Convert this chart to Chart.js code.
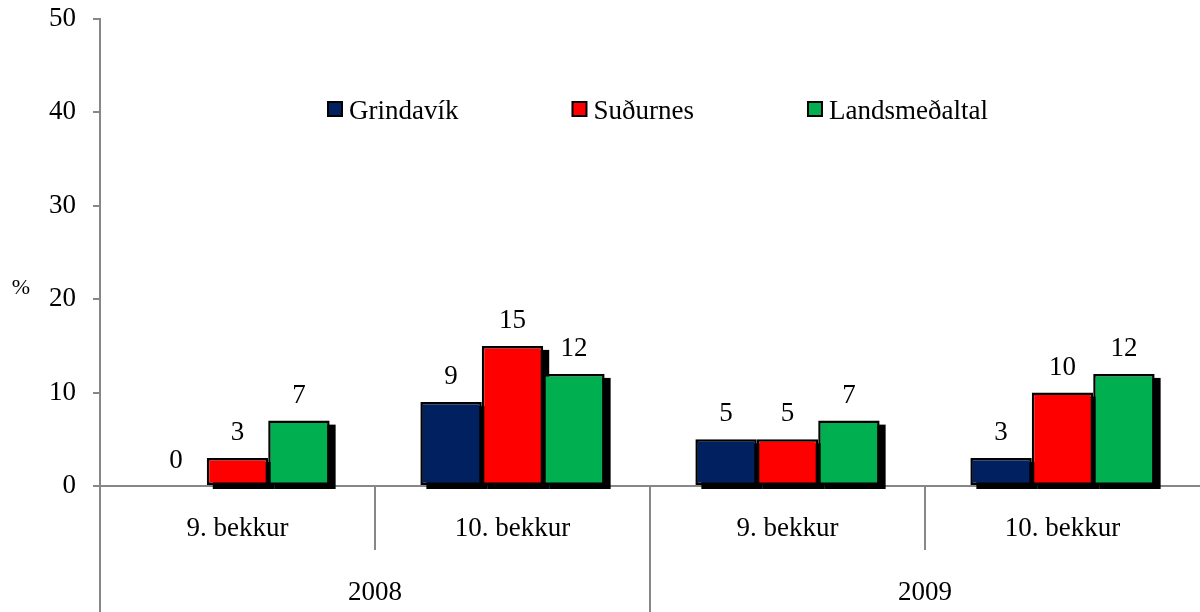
<!DOCTYPE html>
<html><head><meta charset="utf-8">
<script src="https://cdn.jsdelivr.net/npm/chart.js@4/dist/chart.umd.min.js"></script>
<style>html,body{margin:0;padding:0;background:#fff;overflow:hidden}#wrap{width:1200px;height:612px}</style>
</head><body><div id="wrap"><canvas id="c" width="1200" height="612"></canvas></div>
<script>
const grades = ['9. bekkur', '10. bekkur', '9. bekkur', '10. bekkur'];
const years = ['2008', '2009'];
const seriesNames = ['Grindavík', 'Suðurnes', 'Landsmeðaltal'];
const grindavik = [0, 9, 5, 3];
const sudurnes = [3, 15, 5, 10];
const landsmedaltal = [7, 12, 7, 12];
const yTicks = [0, 10, 20, 30, 40, 50];
const colors = ['#002060', '#FF0000', '#00B050'];

const FONT = "'Liberation Serif', 'Times New Roman', serif";
const GRAY = '#878787';

// black drop shadow behind every bar, using the bar geometry from the library
const shadowPlugin = {
  id: 'shadow',
  beforeDatasetsDraw(chart) {
    const ctx = chart.ctx;
    ctx.save();
    ctx.fillStyle = '#000';
    chart.data.datasets.forEach((ds, di) => {
      chart.getDatasetMeta(di).data.forEach((bar, i) => {
        if (ds.data[i] === 0) return;
        const p = bar.getProps(['x', 'y', 'base', 'width'], true);
        const left = p.x - p.width / 2;
        ctx.fillRect(left + 6, p.y + 4, p.width, p.base - p.y);
      });
    });
    ctx.restore();
  }
};

const labelPlugin = {
  id: 'vals',
  afterDatasetsDraw(chart) {
    const ctx = chart.ctx;
    ctx.save();
    ctx.font = '27px ' + FONT;
    ctx.fillStyle = '#000';
    ctx.textAlign = 'center';
    ctx.textBaseline = 'alphabetic';
    chart.data.datasets.forEach((ds, di) => {
      chart.getDatasetMeta(di).data.forEach((bar, i) => {
        ctx.fillText(String(ds.data[i]), bar.x, bar.y - 18);
      });
    });
    ctx.restore();
  }
};

const decoPlugin = {
  id: 'deco',
  afterDraw(chart) {
    const ctx = chart.ctx;
    const xs = chart.scales.x;
    const area = chart.chartArea;
    const w = xs.getPixelForValue(1) - xs.getPixelForValue(0);
    ctx.save();
    ctx.strokeStyle = GRAY;
    ctx.lineWidth = 2;
    ctx.beginPath();
    ctx.moveTo(area.left, area.bottom);
    ctx.lineTo(area.left, chart.height);
    for (let i = 1; i < grades.length; i++) {
      const px = Math.round(xs.getPixelForValue(i) - w / 2);
      ctx.moveTo(px, area.bottom);
      ctx.lineTo(px, i === 2 ? chart.height : area.bottom + 64);
    }
    ctx.stroke();
    ctx.fillStyle = '#000';
    ctx.font = '22px ' + FONT;
    ctx.textAlign = 'center';
    ctx.textBaseline = 'alphabetic';
    ctx.fillText('%', 21, 294);
    ctx.font = '27px ' + FONT;
    ctx.textAlign = 'left';
    let x = 328;
    const sq = 14, top = 102, base = 119;
    seriesNames.forEach((name, i) => {
      ctx.fillStyle = colors[i];
      ctx.fillRect(x, top, sq, sq);
      ctx.strokeStyle = '#000';
      ctx.lineWidth = 2;
      ctx.strokeRect(x, top, sq, sq);
      ctx.fillStyle = '#000';
      ctx.fillText(name, x + sq + 7, base);
      x += sq + 7 + ctx.measureText(name).width + 114;
    });
    ctx.restore();
  }
};

const datasets = [grindavik, sudurnes, landsmedaltal].map((d, i) => ({
  label: seriesNames[i],
  data: d,
  backgroundColor: colors[i],
  borderColor: '#000',
  borderWidth: c => (c.raw === 0 ? 0 : 2.5),
  borderSkipped: false,
  categoryPercentage: 0.67,
  barPercentage: 1,
  clip: false
}));

const noPad = s => { s.paddingTop = 0; s.paddingBottom = 0; s.paddingLeft = 0; s.paddingRight = 0; };

new Chart(document.getElementById('c'), {
  type: 'bar',
  data: { labels: grades, datasets },
  options: {
    responsive: false,
    animation: false,
    events: [],
    layout: { padding: { left: 0, top: 19, right: 0, bottom: 0 } },
    plugins: { legend: { display: false }, tooltip: { enabled: false } },
    scales: {
      x: {
        z: 1,
        weight: 0,
        afterFit: s => { s.height = 64; noPad(s); },
        grid: { display: true, drawOnChartArea: false, drawTicks: false, color: 'rgba(0,0,0,0)' },
        border: { display: true, color: GRAY, width: 2 },
        ticks: { color: '#000', font: { family: FONT, size: 27, lineHeight: 1.2 }, padding: 27, maxRotation: 0, autoSkip: false }
      },
      x2: {
        type: 'category',
        labels: years,
        position: 'bottom',
        offset: true,
        weight: 1,
        afterFit: s => { s.height = 62; noPad(s); },
        grid: { display: false },
        border: { display: false },
        ticks: { color: '#000', font: { family: FONT, size: 27, lineHeight: 1.2 }, padding: 19, maxRotation: 0, autoSkip: false }
      },
      y: {
        min: 0, max: 50,
        afterFit: s => { s.width = 100; noPad(s); },
        afterBuildTicks: s => { s.ticks = yTicks.map(v => ({ value: v })); },
        grid: { drawOnChartArea: false, drawTicks: true, tickLength: 7, color: GRAY, lineWidth: 2 },
        border: { display: true, color: GRAY, width: 2 },
        ticks: { color: '#000', font: { family: FONT, size: 27, lineHeight: 1.2 }, padding: 17 }
      }
    }
  },
  plugins: [shadowPlugin, labelPlugin, decoPlugin]
});
</script></body></html>
